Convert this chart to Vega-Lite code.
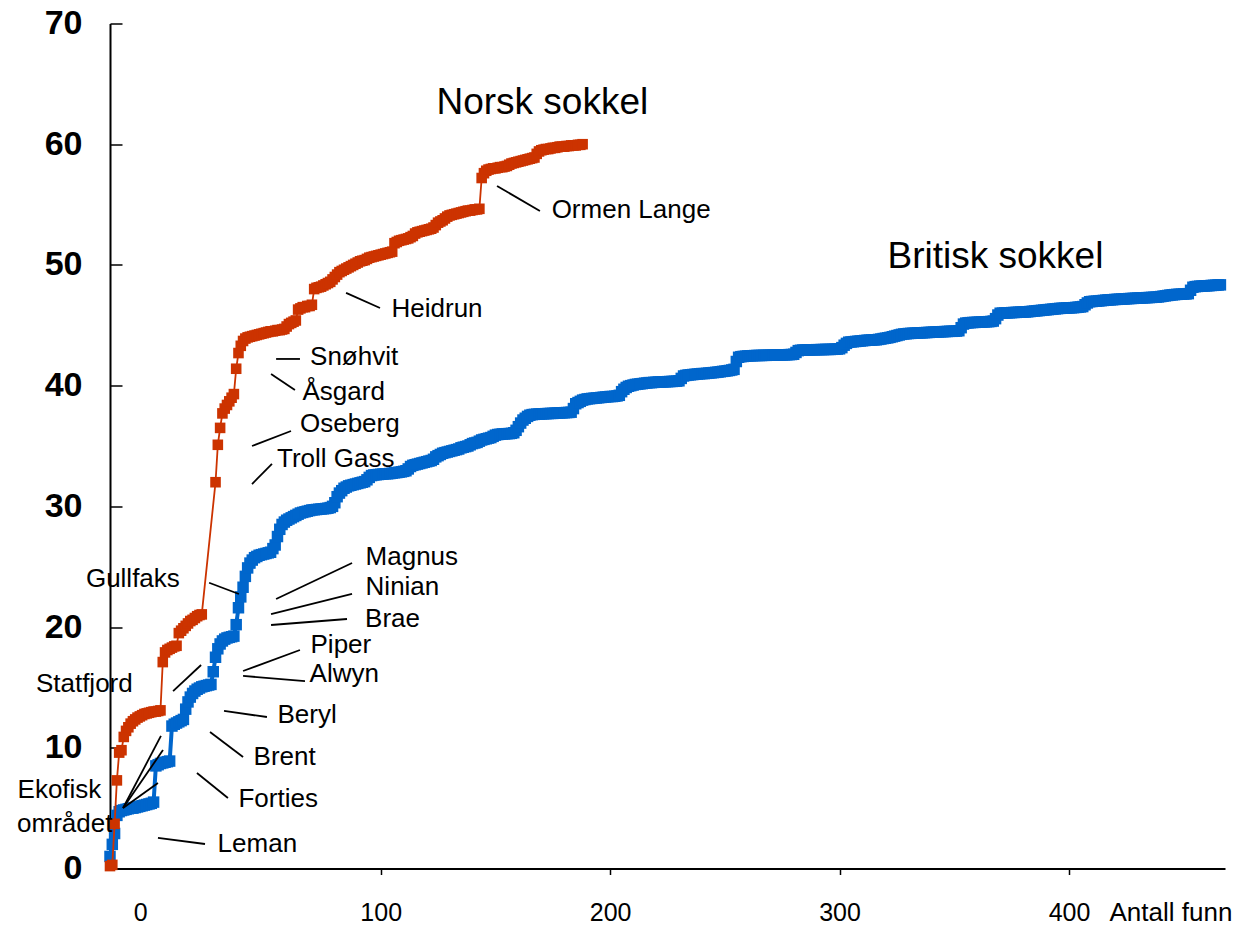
{
"$schema":"https://vega.github.io/schema/vega-lite/v6.json",
"width":1115,"height":845,"autosize":"none",
"padding":{"left":110,"top":23.5,"right":16,"bottom":56.5},
"background":"white",
"config":{"view":{"stroke":null},"font":"Liberation Sans","axis":{"grid":false}},
"datasets":{
"norsk":[{"x":-18,"y":0.2},{"x":-17,"y":0.3},{"x":-16,"y":3.7},{"x":-15,"y":7.3},{"x":-14,"y":9.6},{"x":-13,"y":9.8},{"x":-12,"y":10.9},{"x":-11,"y":11.4},{"x":-10,"y":11.7},{"x":-9,"y":12.0},{"x":-8,"y":12.2},{"x":-7,"y":12.35},{"x":-6,"y":12.5},{"x":-5,"y":12.6},{"x":-4,"y":12.7},{"x":-3,"y":12.8},{"x":-2,"y":12.85},{"x":-1,"y":12.9},{"x":0,"y":12.95},{"x":1,"y":13.0},{"x":2,"y":13.0},{"x":3,"y":13.05},{"x":4,"y":13.1},{"x":5,"y":17.1},{"x":6,"y":17.9},{"x":7,"y":18.1},{"x":8,"y":18.2},{"x":9,"y":18.3},{"x":10,"y":18.4},{"x":11,"y":18.45},{"x":12,"y":19.5},{"x":13,"y":19.7},{"x":14,"y":19.9},{"x":15,"y":20.1},{"x":16,"y":20.3},{"x":17,"y":20.5},{"x":18,"y":20.6},{"x":19,"y":20.75},{"x":20,"y":20.9},{"x":21,"y":21.0},{"x":22,"y":21.05},{"x":28,"y":32.0},{"x":29,"y":35.1},{"x":30,"y":36.5},{"x":31,"y":37.7},{"x":32,"y":38.1},{"x":33,"y":38.4},{"x":34,"y":38.7},{"x":35,"y":39.0},{"x":36,"y":39.3},{"x":37,"y":41.4},{"x":38,"y":42.7},{"x":39,"y":43.3},{"x":40,"y":43.7},{"x":41,"y":43.9},{"x":42,"y":44.0},{"x":43,"y":44.05},{"x":44,"y":44.1},{"x":45,"y":44.15},{"x":46,"y":44.2},{"x":47,"y":44.25},{"x":48,"y":44.3},{"x":49,"y":44.35},{"x":50,"y":44.4},{"x":51,"y":44.45},{"x":52,"y":44.5},{"x":53,"y":44.5},{"x":54,"y":44.55},{"x":55,"y":44.6},{"x":56,"y":44.6},{"x":57,"y":44.65},{"x":58,"y":44.7},{"x":59,"y":44.9},{"x":60,"y":45.1},{"x":61,"y":45.2},{"x":62,"y":45.3},{"x":63,"y":45.4},{"x":64,"y":46.3},{"x":65,"y":46.4},{"x":66,"y":46.5},{"x":67,"y":46.5},{"x":68,"y":46.6},{"x":69,"y":46.6},{"x":70,"y":46.7},{"x":71,"y":48.0},{"x":72,"y":48.1},{"x":73,"y":48.15},{"x":74,"y":48.2},{"x":75,"y":48.3},{"x":76,"y":48.4},{"x":77,"y":48.5},{"x":78,"y":48.6},{"x":79,"y":48.8},{"x":80,"y":49.0},{"x":81,"y":49.2},{"x":82,"y":49.4},{"x":83,"y":49.5},{"x":84,"y":49.6},{"x":85,"y":49.7},{"x":86,"y":49.8},{"x":87,"y":49.9},{"x":88,"y":50.0},{"x":89,"y":50.1},{"x":90,"y":50.2},{"x":91,"y":50.3},{"x":92,"y":50.35},{"x":93,"y":50.4},{"x":94,"y":50.5},{"x":95,"y":50.6},{"x":96,"y":50.65},{"x":97,"y":50.7},{"x":98,"y":50.75},{"x":99,"y":50.8},{"x":100,"y":50.85},{"x":101,"y":50.9},{"x":102,"y":50.95},{"x":103,"y":51.0},{"x":104,"y":51.05},{"x":105,"y":51.1},{"x":106,"y":51.8},{"x":107,"y":51.9},{"x":108,"y":52.0},{"x":109,"y":52.05},{"x":110,"y":52.1},{"x":111,"y":52.15},{"x":112,"y":52.2},{"x":113,"y":52.3},{"x":114,"y":52.4},{"x":115,"y":52.6},{"x":116,"y":52.7},{"x":117,"y":52.75},{"x":118,"y":52.8},{"x":119,"y":52.85},{"x":120,"y":52.9},{"x":121,"y":52.95},{"x":122,"y":53.0},{"x":123,"y":53.1},{"x":124,"y":53.3},{"x":125,"y":53.5},{"x":126,"y":53.6},{"x":127,"y":53.7},{"x":128,"y":53.85},{"x":129,"y":54.0},{"x":130,"y":54.1},{"x":131,"y":54.15},{"x":132,"y":54.2},{"x":133,"y":54.25},{"x":134,"y":54.3},{"x":135,"y":54.35},{"x":136,"y":54.4},{"x":137,"y":54.45},{"x":138,"y":54.5},{"x":139,"y":54.5},{"x":140,"y":54.55},{"x":141,"y":54.6},{"x":142,"y":54.6},{"x":143,"y":54.65},{"x":144,"y":57.2},{"x":145,"y":57.6},{"x":146,"y":57.8},{"x":147,"y":57.9},{"x":148,"y":57.95},{"x":149,"y":58.0},{"x":150,"y":58.0},{"x":151,"y":58.05},{"x":152,"y":58.1},{"x":153,"y":58.1},{"x":154,"y":58.15},{"x":155,"y":58.2},{"x":156,"y":58.3},{"x":157,"y":58.4},{"x":158,"y":58.45},{"x":159,"y":58.5},{"x":160,"y":58.55},{"x":161,"y":58.6},{"x":162,"y":58.65},{"x":163,"y":58.7},{"x":164,"y":58.75},{"x":165,"y":58.8},{"x":166,"y":58.85},{"x":167,"y":58.9},{"x":168,"y":59.2},{"x":169,"y":59.4},{"x":170,"y":59.5},{"x":171,"y":59.55},{"x":172,"y":59.6},{"x":173,"y":59.6},{"x":174,"y":59.65},{"x":175,"y":59.7},{"x":176,"y":59.7},{"x":177,"y":59.75},{"x":178,"y":59.8},{"x":179,"y":59.8},{"x":180,"y":59.8},{"x":181,"y":59.85},{"x":182,"y":59.85},{"x":183,"y":59.9},{"x":184,"y":59.9},{"x":185,"y":59.9},{"x":186,"y":59.95},{"x":187,"y":59.95},{"x":188,"y":60.0}],
"britisk":[{"x":-18,"y":1.0},{"x":-17,"y":2.0},{"x":-16,"y":2.9},{"x":-15,"y":4.4},{"x":-14,"y":4.7},{"x":-13,"y":4.8},{"x":-12,"y":4.85},{"x":-11,"y":4.9},{"x":-10,"y":4.95},{"x":-9,"y":5.0},{"x":-8,"y":5.0},{"x":-7,"y":5.05},{"x":-6,"y":5.1},{"x":-5,"y":5.15},{"x":-4,"y":5.2},{"x":-3,"y":5.25},{"x":-2,"y":5.3},{"x":-1,"y":5.35},{"x":0,"y":5.4},{"x":1,"y":5.5},{"x":2,"y":8.5},{"x":3,"y":8.6},{"x":4,"y":8.7},{"x":5,"y":8.75},{"x":6,"y":8.8},{"x":7,"y":8.85},{"x":8,"y":8.9},{"x":9,"y":11.8},{"x":10,"y":11.95},{"x":11,"y":12.05},{"x":12,"y":12.15},{"x":13,"y":12.25},{"x":14,"y":12.35},{"x":15,"y":13.2},{"x":16,"y":13.8},{"x":17,"y":14.2},{"x":18,"y":14.5},{"x":19,"y":14.7},{"x":20,"y":14.85},{"x":21,"y":14.95},{"x":22,"y":15.05},{"x":23,"y":15.1},{"x":24,"y":15.15},{"x":25,"y":15.2},{"x":26,"y":15.25},{"x":27,"y":16.3},{"x":28,"y":17.5},{"x":29,"y":18.2},{"x":30,"y":18.6},{"x":31,"y":18.85},{"x":32,"y":19.0},{"x":33,"y":19.1},{"x":34,"y":19.15},{"x":35,"y":19.2},{"x":36,"y":19.25},{"x":37,"y":20.2},{"x":38,"y":21.6},{"x":39,"y":22.5},{"x":40,"y":23.3},{"x":41,"y":24.2},{"x":42,"y":24.9},{"x":43,"y":25.3},{"x":44,"y":25.55},{"x":45,"y":25.75},{"x":46,"y":25.85},{"x":47,"y":25.95},{"x":48,"y":26.0},{"x":49,"y":26.05},{"x":50,"y":26.1},{"x":51,"y":26.15},{"x":52,"y":26.2},{"x":53,"y":26.5},{"x":54,"y":26.8},{"x":55,"y":27.5},{"x":56,"y":28.1},{"x":57,"y":28.5},{"x":58,"y":28.7},{"x":59,"y":28.85},{"x":60,"y":28.95},{"x":61,"y":29.05},{"x":62,"y":29.15},{"x":63,"y":29.25},{"x":64,"y":29.35},{"x":65,"y":29.45},{"x":66,"y":29.5},{"x":67,"y":29.55},{"x":68,"y":29.6},{"x":69,"y":29.65},{"x":70,"y":29.7},{"x":71,"y":29.72},{"x":72,"y":29.74},{"x":73,"y":29.76},{"x":74,"y":29.78},{"x":75,"y":29.8},{"x":76,"y":29.82},{"x":77,"y":29.85},{"x":78,"y":29.9},{"x":79,"y":30.0},{"x":80,"y":30.3},{"x":81,"y":30.8},{"x":82,"y":31.1},{"x":83,"y":31.3},{"x":84,"y":31.5},{"x":85,"y":31.6},{"x":86,"y":31.7},{"x":87,"y":31.75},{"x":88,"y":31.8},{"x":89,"y":31.85},{"x":90,"y":31.9},{"x":91,"y":31.95},{"x":92,"y":32.0},{"x":93,"y":32.05},{"x":94,"y":32.2},{"x":95,"y":32.4},{"x":96,"y":32.55},{"x":97,"y":32.6},{"x":98,"y":32.62},{"x":99,"y":32.64},{"x":100,"y":32.66},{"x":101,"y":32.68},{"x":102,"y":32.7},{"x":103,"y":32.7},{"x":104,"y":32.72},{"x":105,"y":32.75},{"x":106,"y":32.78},{"x":107,"y":32.8},{"x":108,"y":32.83},{"x":109,"y":32.86},{"x":110,"y":32.9},{"x":111,"y":32.95},{"x":112,"y":33.1},{"x":113,"y":33.3},{"x":114,"y":33.4},{"x":115,"y":33.45},{"x":116,"y":33.5},{"x":117,"y":33.55},{"x":118,"y":33.6},{"x":119,"y":33.65},{"x":120,"y":33.7},{"x":121,"y":33.75},{"x":122,"y":33.8},{"x":123,"y":33.9},{"x":124,"y":34.1},{"x":125,"y":34.2},{"x":126,"y":34.3},{"x":127,"y":34.4},{"x":128,"y":34.45},{"x":129,"y":34.5},{"x":130,"y":34.55},{"x":131,"y":34.6},{"x":132,"y":34.65},{"x":133,"y":34.7},{"x":134,"y":34.75},{"x":135,"y":34.85},{"x":136,"y":34.9},{"x":137,"y":34.95},{"x":138,"y":35.0},{"x":139,"y":35.1},{"x":140,"y":35.2},{"x":141,"y":35.25},{"x":142,"y":35.3},{"x":143,"y":35.4},{"x":144,"y":35.5},{"x":145,"y":35.55},{"x":146,"y":35.6},{"x":147,"y":35.65},{"x":148,"y":35.7},{"x":149,"y":35.8},{"x":150,"y":35.9},{"x":151,"y":35.95},{"x":152,"y":35.97},{"x":153,"y":36.0},{"x":154,"y":36.0},{"x":155,"y":36.02},{"x":156,"y":36.03},{"x":157,"y":36.05},{"x":158,"y":36.1},{"x":159,"y":36.3},{"x":160,"y":36.6},{"x":161,"y":36.9},{"x":162,"y":37.15},{"x":163,"y":37.3},{"x":164,"y":37.45},{"x":165,"y":37.55},{"x":166,"y":37.6},{"x":167,"y":37.62},{"x":168,"y":37.64},{"x":169,"y":37.65},{"x":170,"y":37.66},{"x":171,"y":37.67},{"x":172,"y":37.68},{"x":173,"y":37.69},{"x":174,"y":37.7},{"x":175,"y":37.7},{"x":176,"y":37.72},{"x":177,"y":37.73},{"x":178,"y":37.74},{"x":179,"y":37.75},{"x":180,"y":37.76},{"x":181,"y":37.77},{"x":182,"y":37.78},{"x":183,"y":37.8},{"x":184,"y":38.1},{"x":185,"y":38.5},{"x":186,"y":38.6},{"x":187,"y":38.7},{"x":188,"y":38.8},{"x":189,"y":38.85},{"x":190,"y":38.9},{"x":191,"y":38.92},{"x":192,"y":38.94},{"x":193,"y":38.96},{"x":194,"y":38.98},{"x":195,"y":39.0},{"x":196,"y":39.02},{"x":197,"y":39.04},{"x":198,"y":39.06},{"x":199,"y":39.08},{"x":200,"y":39.1},{"x":201,"y":39.1},{"x":202,"y":39.12},{"x":203,"y":39.15},{"x":204,"y":39.2},{"x":205,"y":39.5},{"x":206,"y":39.7},{"x":207,"y":39.85},{"x":208,"y":39.95},{"x":209,"y":40.0},{"x":210,"y":40.05},{"x":211,"y":40.1},{"x":212,"y":40.12},{"x":213,"y":40.15},{"x":214,"y":40.17},{"x":215,"y":40.2},{"x":216,"y":40.22},{"x":217,"y":40.25},{"x":218,"y":40.25},{"x":219,"y":40.27},{"x":220,"y":40.28},{"x":221,"y":40.3},{"x":222,"y":40.3},{"x":223,"y":40.31},{"x":224,"y":40.32},{"x":225,"y":40.33},{"x":226,"y":40.34},{"x":227,"y":40.35},{"x":228,"y":40.36},{"x":229,"y":40.37},{"x":230,"y":40.4},{"x":231,"y":40.6},{"x":232,"y":40.8},{"x":233,"y":40.85},{"x":234,"y":40.88},{"x":235,"y":40.9},{"x":236,"y":40.92},{"x":237,"y":40.94},{"x":238,"y":40.96},{"x":239,"y":40.98},{"x":240,"y":41.0},{"x":241,"y":41.0},{"x":242,"y":41.02},{"x":243,"y":41.04},{"x":244,"y":41.06},{"x":245,"y":41.08},{"x":246,"y":41.1},{"x":247,"y":41.12},{"x":248,"y":41.15},{"x":249,"y":41.18},{"x":250,"y":41.2},{"x":251,"y":41.23},{"x":252,"y":41.26},{"x":253,"y":41.3},{"x":254,"y":41.35},{"x":255,"y":42.0},{"x":256,"y":42.35},{"x":257,"y":42.4},{"x":258,"y":42.42},{"x":259,"y":42.44},{"x":260,"y":42.46},{"x":261,"y":42.47},{"x":262,"y":42.48},{"x":263,"y":42.49},{"x":264,"y":42.5},{"x":265,"y":42.5},{"x":266,"y":42.5},{"x":267,"y":42.51},{"x":268,"y":42.51},{"x":269,"y":42.52},{"x":270,"y":42.52},{"x":271,"y":42.53},{"x":272,"y":42.53},{"x":273,"y":42.54},{"x":274,"y":42.54},{"x":275,"y":42.55},{"x":276,"y":42.55},{"x":277,"y":42.56},{"x":278,"y":42.57},{"x":279,"y":42.58},{"x":280,"y":42.6},{"x":281,"y":42.75},{"x":282,"y":42.9},{"x":283,"y":42.93},{"x":284,"y":42.95},{"x":285,"y":42.95},{"x":286,"y":42.96},{"x":287,"y":42.96},{"x":288,"y":42.97},{"x":289,"y":42.97},{"x":290,"y":42.98},{"x":291,"y":42.98},{"x":292,"y":42.99},{"x":293,"y":42.99},{"x":294,"y":43.0},{"x":295,"y":43.0},{"x":296,"y":43.0},{"x":297,"y":43.01},{"x":298,"y":43.02},{"x":299,"y":43.03},{"x":300,"y":43.05},{"x":301,"y":43.15},{"x":302,"y":43.35},{"x":303,"y":43.5},{"x":304,"y":43.6},{"x":305,"y":43.62},{"x":306,"y":43.64},{"x":307,"y":43.66},{"x":308,"y":43.68},{"x":309,"y":43.7},{"x":310,"y":43.72},{"x":311,"y":43.74},{"x":312,"y":43.76},{"x":313,"y":43.77},{"x":314,"y":43.78},{"x":315,"y":43.79},{"x":316,"y":43.8},{"x":317,"y":43.83},{"x":318,"y":43.86},{"x":319,"y":43.9},{"x":320,"y":43.93},{"x":321,"y":43.96},{"x":322,"y":44.0},{"x":323,"y":44.05},{"x":324,"y":44.1},{"x":325,"y":44.15},{"x":326,"y":44.2},{"x":327,"y":44.25},{"x":328,"y":44.28},{"x":329,"y":44.3},{"x":330,"y":44.32},{"x":331,"y":44.33},{"x":332,"y":44.34},{"x":333,"y":44.35},{"x":334,"y":44.36},{"x":335,"y":44.37},{"x":336,"y":44.38},{"x":337,"y":44.39},{"x":338,"y":44.4},{"x":339,"y":44.41},{"x":340,"y":44.42},{"x":341,"y":44.43},{"x":342,"y":44.44},{"x":343,"y":44.45},{"x":344,"y":44.46},{"x":345,"y":44.47},{"x":346,"y":44.48},{"x":347,"y":44.49},{"x":348,"y":44.5},{"x":349,"y":44.5},{"x":350,"y":44.51},{"x":351,"y":44.52},{"x":352,"y":44.55},{"x":353,"y":44.8},{"x":354,"y":45.1},{"x":355,"y":45.18},{"x":356,"y":45.2},{"x":357,"y":45.22},{"x":358,"y":45.23},{"x":359,"y":45.24},{"x":360,"y":45.25},{"x":361,"y":45.26},{"x":362,"y":45.27},{"x":363,"y":45.28},{"x":364,"y":45.29},{"x":365,"y":45.3},{"x":366,"y":45.32},{"x":367,"y":45.35},{"x":368,"y":45.55},{"x":369,"y":45.85},{"x":370,"y":46.0},{"x":371,"y":46.01},{"x":372,"y":46.02},{"x":373,"y":46.03},{"x":374,"y":46.04},{"x":375,"y":46.05},{"x":376,"y":46.06},{"x":377,"y":46.07},{"x":378,"y":46.08},{"x":379,"y":46.09},{"x":380,"y":46.1},{"x":381,"y":46.1},{"x":382,"y":46.12},{"x":383,"y":46.14},{"x":384,"y":46.16},{"x":385,"y":46.18},{"x":386,"y":46.2},{"x":387,"y":46.22},{"x":388,"y":46.24},{"x":389,"y":46.26},{"x":390,"y":46.28},{"x":391,"y":46.3},{"x":392,"y":46.32},{"x":393,"y":46.34},{"x":394,"y":46.36},{"x":395,"y":46.38},{"x":396,"y":46.4},{"x":397,"y":46.41},{"x":398,"y":46.42},{"x":399,"y":46.43},{"x":400,"y":46.44},{"x":401,"y":46.45},{"x":402,"y":46.46},{"x":403,"y":46.48},{"x":404,"y":46.5},{"x":405,"y":46.52},{"x":406,"y":46.55},{"x":407,"y":46.7},{"x":408,"y":46.85},{"x":409,"y":46.95},{"x":410,"y":46.97},{"x":411,"y":46.99},{"x":412,"y":47.0},{"x":413,"y":47.02},{"x":414,"y":47.04},{"x":415,"y":47.06},{"x":416,"y":47.08},{"x":417,"y":47.1},{"x":418,"y":47.11},{"x":419,"y":47.12},{"x":420,"y":47.14},{"x":421,"y":47.15},{"x":422,"y":47.16},{"x":423,"y":47.17},{"x":424,"y":47.18},{"x":425,"y":47.2},{"x":426,"y":47.21},{"x":427,"y":47.22},{"x":428,"y":47.23},{"x":429,"y":47.24},{"x":430,"y":47.25},{"x":431,"y":47.26},{"x":432,"y":47.27},{"x":433,"y":47.28},{"x":434,"y":47.29},{"x":435,"y":47.3},{"x":436,"y":47.31},{"x":437,"y":47.32},{"x":438,"y":47.33},{"x":439,"y":47.35},{"x":440,"y":47.38},{"x":441,"y":47.41},{"x":442,"y":47.44},{"x":443,"y":47.47},{"x":444,"y":47.5},{"x":445,"y":47.52},{"x":446,"y":47.54},{"x":447,"y":47.56},{"x":448,"y":47.57},{"x":449,"y":47.58},{"x":450,"y":47.59},{"x":451,"y":47.6},{"x":452,"y":47.62},{"x":453,"y":47.9},{"x":454,"y":48.15},{"x":455,"y":48.2},{"x":456,"y":48.22},{"x":457,"y":48.24},{"x":458,"y":48.25},{"x":459,"y":48.26},{"x":460,"y":48.27},{"x":461,"y":48.28},{"x":462,"y":48.3},{"x":463,"y":48.31},{"x":464,"y":48.32},{"x":465,"y":48.34},{"x":466,"y":48.35}],
"leaders":[{"x":150.7,"y":56.54,"x2":169.4,"y2":54.47},{"x":84.9,"y":47.69,"x2":99.7,"y2":46.43},{"x":54.4,"y":42.21,"x2":64.8,"y2":42.21},{"x":52.2,"y":40.97,"x2":62.6,"y2":39.64},{"x":43.9,"y":35.0,"x2":60.9,"y2":36.24},{"x":43.9,"y":31.85,"x2":52.6,"y2":33.51},{"x":25.2,"y":23.67,"x2":38.2,"y2":22.74},{"x":54.4,"y":22.33,"x2":87.5,"y2":25.31},{"x":52.2,"y":21.08,"x2":87.5,"y2":22.74},{"x":52.2,"y":20.17,"x2":85.3,"y2":20.67},{"x":40.0,"y":16.36,"x2":64.8,"y2":18.1},{"x":40.0,"y":15.95,"x2":67.0,"y2":15.53},{"x":31.7,"y":13.05,"x2":50.4,"y2":12.55},{"x":25.6,"y":11.31,"x2":40.0,"y2":9.24},{"x":19.9,"y":7.91,"x2":33.4,"y2":5.84},{"x":2.9,"y":2.53,"x2":23.4,"y2":2.03},{"x":9.5,"y":14.7,"x2":21.7,"y2":16.86},{"x":-12.3,"y":5.01,"x2":4.2,"y2":10.98},{"x":-12.3,"y":5.01,"x2":5.1,"y2":9.82},{"x":-12.3,"y":5.01,"x2":2.9,"y2":7.08}],
"notes":[{"x":174.5,"y":53.9,"t":"Ormen Lange"},{"x":104.7,"y":45.69,"t":"Heidrun"},{"x":69.2,"y":41.71,"t":"Snøhvit"},{"x":65.9,"y":38.82,"t":"Åsgard"},{"x":64.8,"y":36.19,"t":"Oseberg"},{"x":54.8,"y":33.26,"t":"Troll Gass"},{"x":-28.5,"y":23.33,"t":"Gullfaks"},{"x":93.4,"y":25.14,"t":"Magnus"},{"x":93.4,"y":22.66,"t":"Ninian"},{"x":93.2,"y":20.01,"t":"Brae"},{"x":69.4,"y":17.85,"t":"Piper"},{"x":69.0,"y":15.45,"t":"Alwyn"},{"x":55.0,"y":12.05,"t":"Beryl"},{"x":44.6,"y":8.57,"t":"Brent"},{"x":38.0,"y":5.09,"t":"Forties"},{"x":28.9,"y":1.37,"t":"Leman"},{"x":-50.3,"y":14.58,"t":"Statfjord"},{"x":-58.3,"y":5.84,"t":"Ekofisk"},{"x":-58.5,"y":3.02,"t":"området"}],
"series":[{"x":124.3,"y":62.51,"t":"Norsk sokkel"},{"x":320.9,"y":49.75,"t":"Britisk sokkel"}]
},
"encoding":{
"x":{"field":"x","type":"quantitative","scale":{"domain":[-18,468],"nice":false,"zero":false},
"axis":{"values":[0,100,200,300,400],"format":"d","domainColor":"#000","domainWidth":2,"tickColor":"#000","tickWidth":1.5,"tickSize":6,"tickOpacity":{"condition":{"test":"datum.value===0","value":0},"value":1},"labelOffset":{"condition":{"test":"datum.value===0","value":-11},"value":0},"labelFont":"Liberation Sans","labelFontSize":25,"labelColor":"#000","labelPadding":25.75,"labelFlush":false,"labelOverlap":false,"title":"Antall funn","titleFont":"Liberation Sans","titleFontSize":26,"titleFontWeight":"normal","titleColor":"#000","titleX":999,"titleY":51.5,"titleAlign":"left","titleBaseline":"alphabetic"}},
"y":{"field":"y","type":"quantitative","scale":{"domain":[0,70],"nice":false,"zero":true},
"axis":{"values":[0,10,20,30,40,50,60,70],"domainColor":"#000","domainWidth":2,"tickColor":"#000","tickWidth":1.5,"tickSize":-12,"labelPadding":40,"labelFont":"Liberation Sans","labelFontSize":34,"labelFontWeight":"bold","labelColor":"#000","labelFlush":false,"labelOverlap":false,"title":null}}
},
"layer":[
{"data":{"name":"britisk"},"mark":{"type":"line","color":"#0066CC","strokeWidth":4},"encoding":{}},
{"data":{"name":"britisk"},"mark":{"type":"square","color":"#0066CC","filled":true,"opacity":1,"size":132},"encoding":{}},
{"data":{"name":"norsk"},"mark":{"type":"line","color":"#CC3300","strokeWidth":1.8},"encoding":{}},
{"data":{"name":"norsk"},"mark":{"type":"square","color":"#CC3300","filled":true,"opacity":1,"size":112},"encoding":{}},
{"data":{"name":"leaders"},"mark":{"type":"rule","color":"#000","strokeWidth":1.8},"encoding":{"x2":{"field":"x2"},"y2":{"field":"y2"}}},
{"data":{"name":"notes"},"mark":{"type":"text","align":"left","baseline":"alphabetic","fontSize":26,"font":"Liberation Sans","color":"#000"},"encoding":{"text":{"field":"t"}}},
{"data":{"name":"series"},"mark":{"type":"text","align":"left","baseline":"alphabetic","fontSize":37,"font":"Liberation Sans","color":"#000"},"encoding":{"text":{"field":"t"}}}
]
}
